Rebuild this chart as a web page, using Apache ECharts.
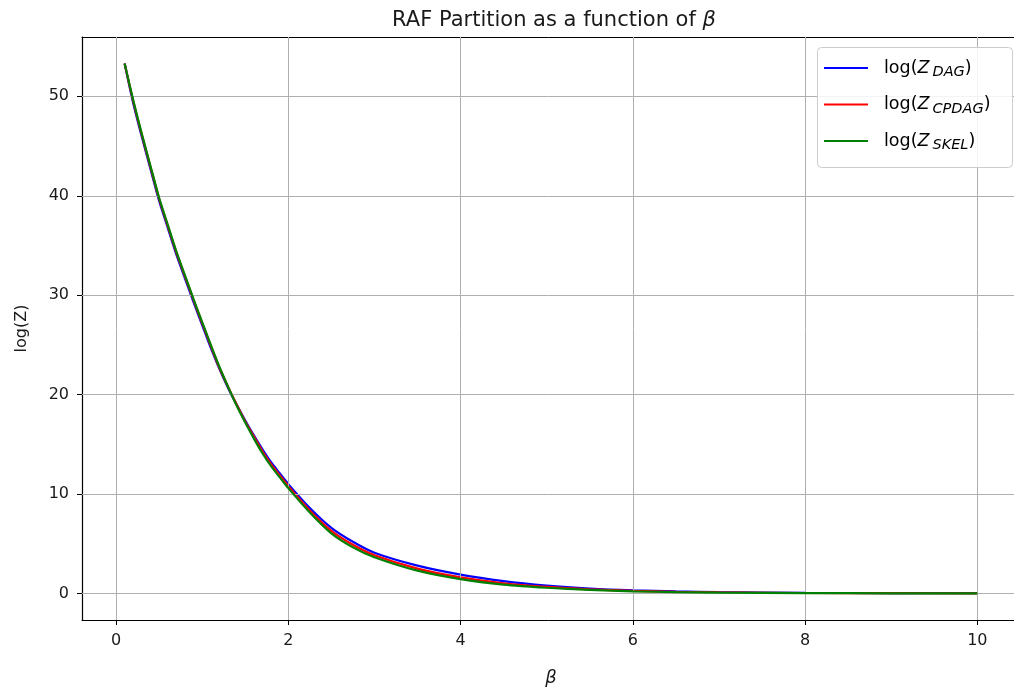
<!DOCTYPE html>
<html>
<head>
<meta charset="utf-8">
<script src="https://cdn.jsdelivr.net/npm/echarts@6/dist/echarts.min.js"></script>
<style>html,body{margin:0;padding:0;background:#fff;}#c{width:1014px;height:688px;}</style>
</head>
<body>
<div id="c"></div>
<script>
const beta = [0.1,0.2,0.3,0.4,0.5,0.6,0.7,0.8,0.9,1.0,1.1,1.2,1.3,1.4,1.5,1.6,1.7,1.8,1.9,2.0,2.25,2.5,2.75,3.0,3.5,4.0,4.5,5.0,5.5,6.0,6.5,7.0,8.0,9.0,10.0];
const zDag = [53.3,49.3,45.9,42.7,39.5,36.8,34.1,31.7,29.3,27.0,24.7,22.6,20.7,19.0,17.4,15.9,14.5,13.2,12.1,11.0,8.6,6.6,5.2,4.1,2.8,1.9,1.25,0.8,0.5,0.32,0.21,0.14,0.07,0.04,0.03];
const zCpdag = [53.3,49.5,46.1,42.9,39.7,37.0,34.3,31.9,29.5,27.2,24.9,22.7,20.8,19.0,17.3,15.8,14.3,13.0,11.9,10.8,8.35,6.3,4.9,3.85,2.5,1.62,1.03,0.66,0.42,0.26,0.17,0.11,0.05,0.03,0.02];
const zSkel = [53.3,49.6,46.2,43.0,39.8,37.1,34.4,32.0,29.6,27.3,25.0,22.8,20.8,18.9,17.2,15.6,14.1,12.8,11.7,10.6,8.15,6.05,4.65,3.65,2.3,1.45,0.9,0.58,0.36,0.22,0.14,0.09,0.04,0.02,0.01];
const xTicks = [0,2,4,6,8,10];
const yTicks = [0,10,20,30,40,50];
const seriesNames = ['DAG','CPDAG','SKEL'];
const seriesColors = ['#0000ff','#ff0000','#008000'];

const FONT = 'DejaVu Sans';
const xMin = -0.395, xMax = 10.495, yMin = -2.665, yMax = 55.965;

const chart = echarts.init(document.getElementById('c'), null, {renderer:'canvas'});
const dataSets = [zDag, zCpdag, zSkel];
const series = dataSets.map((arr, i) => ({
  name: seriesNames[i],
  type: 'line',
  data: beta.map((b, k) => [b, arr[k]]),
  showSymbol: false,
  smooth: 0.25,
  lineStyle: {color: seriesColors[i], width: 2.2},
  itemStyle: {color: seriesColors[i]},
  z: 3 + i
}));
series.push({
  type: 'line', data: [], silent: true, z: 1,
  markLine: {
    silent: true, symbol: ['none','none'], label: {show:false},
    lineStyle: {color:'#b0b0b0', width:1, type:'solid'},
    animation:false,
    data: xTicks.map(v => ({xAxis: v})).concat(yTicks.map(v => ({yAxis: v})))
  }
});

const legendRich = {
  n: {fontFamily: FONT, fontSize: 17.5, color: '#1a1a1a', lineHeight: 24, verticalAlign: 'middle'},
  z: {fontFamily: FONT, fontSize: 17.5, fontStyle: 'italic', color: '#1a1a1a', lineHeight: 24, verticalAlign: 'middle', padding: [0,3,0,0]},
  s: {fontFamily: FONT, fontSize: 14.5, fontStyle: 'italic', color: '#1a1a1a', lineHeight: 24, verticalAlign: 'bottom'}
};
const legendRowsY = [68, 104.5, 141];
const legendEls = [{
  type: 'rect', left: 817, top: 47, z: 100,
  shape: {width: 195, height: 120, r: 4},
  style: {fill: 'rgba(255,255,255,0.85)', stroke: '#cccccc', lineWidth: 1}
}];
seriesNames.forEach((nm, i) => {
  legendEls.push({
    type: 'line', z: 101,
    shape: {x1: 824, y1: legendRowsY[i], x2: 868, y2: legendRowsY[i]},
    style: {stroke: seriesColors[i], lineWidth: 2.2}
  });
  legendEls.push({
    type: 'text', z: 101, x: 884, y: legendRowsY[i],
    style: {
      text: '{n|log(}{z|Z}{s|' + nm + '}{n|)}',
      rich: legendRich,
      verticalAlign: 'middle', align: 'left'
    }
  });
});

chart.setOption({
  animation: false,
  backgroundColor: '#fff',
  title: {
    text: '{t|RAF Partition as a function of }{b|β}',
    left: 549, top: 5, textAlign: 'center',
    textStyle: {
      fontSize: 21, fontWeight: 'normal', fontFamily: FONT,
      rich: {
        t: {fontFamily: FONT, fontSize: 21, fontWeight: 'normal', color: '#1a1a1a'},
        b: {fontFamily: FONT, fontSize: 21, fontWeight: 'normal', fontStyle: 'italic', color: '#1a1a1a'}
      }
    }
  },
  grid: {left: 82, top: 37, width: 938, height: 583, show: false, containLabel: false, outerBoundsMode: 'none'},
  graphic: legendEls,
  xAxis: [{
    type: 'value', min: xMin, max: xMax,
    name: 'β', nameLocation: 'middle', nameGap: 49,
    nameTextStyle: {fontFamily: FONT, fontSize: 18, fontStyle: 'italic', color: '#1a1a1a'},
    axisLine: {show: true, onZero: false, lineStyle: {color: '#000', width: 1}},
    axisTick: {show: true, length: 5, lineStyle: {color: '#000'}, customValues: xTicks},
    axisLabel: {fontFamily: FONT, fontSize: 16, color: '#1a1a1a', margin: 13, customValues: xTicks, formatter: v => String(v)},
    splitLine: {show: false}
  }, {
    type: 'value', min: xMin, max: xMax, position: 'top',
    axisLine: {show: true, onZero: false, lineStyle: {color: '#000', width: 1}},
    axisTick: {show: false}, axisLabel: {show: false}, splitLine: {show: false}
  }],
  yAxis: {
    type: 'value', min: yMin, max: yMax,
    name: 'log(Z)', nameLocation: 'middle', nameGap: 52, nameRotate: 90,
    nameTextStyle: {fontFamily: FONT, fontSize: 16, color: '#1a1a1a'},
    axisLine: {show: true, onZero: false, lineStyle: {color: '#000', width: 1.2}},
    axisTick: {show: true, length: 5, lineStyle: {color: '#000'}, customValues: yTicks},
    axisLabel: {fontFamily: FONT, fontSize: 16, color: '#1a1a1a', margin: 13, customValues: yTicks, formatter: v => String(v)},
    splitLine: {show: false}
  },
  series: series
});
</script>
</body>
</html>
